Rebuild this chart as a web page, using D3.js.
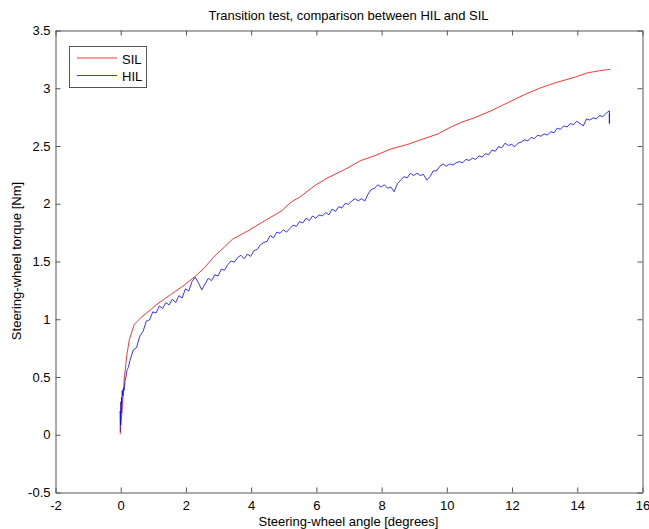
<!DOCTYPE html>
<html>
<head>
<meta charset="utf-8">
<script src="https://cdn.jsdelivr.net/npm/d3@7"></script>
<style>
  html, body { margin: 0; padding: 0; background: #fff; }
  svg { display: block; font-family: "Liberation Sans", Arial, sans-serif; }
</style>
</head>
<body>
<svg id="chart" width="649" height="529"></svg>
<script>
// Simulation (SIL) torque curve
const silAngle = [0, 0.03, 0.07, 0.12, 0.2, 0.28, 0.43, 0.63, 0.94, 1.1, 1.55, 1.91, 2.27, 2.58, 2.88, 3.19,
  3.45, 3.91, 4.32, 4.62, 4.93, 5.24, 5.54, 5.95, 6.36, 6.87, 7.38, 7.79, 8.3, 8.82, 9.22, 9.74,
  10.14, 10.45, 10.86, 11.37, 11.88, 12.39, 12.9, 13.42, 13.93, 14.34, 14.75, 15.03];
const silTorque = [0, 0.12, 0.24, 0.47, 0.68, 0.82, 0.95, 1.01, 1.08, 1.12, 1.21, 1.28, 1.36, 1.44, 1.54, 1.62,
  1.69, 1.76, 1.83, 1.88, 1.93, 2.01, 2.06, 2.15, 2.22, 2.29, 2.37, 2.41, 2.47, 2.51, 2.55, 2.60,
  2.66, 2.70, 2.74, 2.80, 2.87, 2.94, 3.00, 3.05, 3.09, 3.13, 3.15, 3.16];

// Hardware-in-the-loop (HIL) measured torque
const hilAngle = [0, 0, 0.01, 0.02, 0.03, 0.04, 0.05, 0.06, 0.08, 0.1, 0.12, 0.15, 0.18, 0.2, 0.25,
  0.3, 0.4, 0.5, 0.6, 0.7, 0.8, 0.9, 1.0, 1.1, 1.2, 1.3, 1.4, 1.5, 1.6, 1.7, 1.8, 1.9,
  2.0, 2.1, 2.2, 2.3, 2.4, 2.5, 2.6, 2.7, 2.8, 2.9, 3.0, 3.1, 3.2, 3.3, 3.4, 3.5, 3.6, 3.7, 3.8, 3.9,
  4.0, 4.1, 4.2, 4.3, 4.4, 4.5, 4.6, 4.7, 4.8, 4.9, 5.0, 5.1, 5.2, 5.3, 5.4, 5.5, 5.6, 5.7, 5.8, 5.9,
  6.0, 6.1, 6.2, 6.3, 6.4, 6.5, 6.6, 6.7, 6.8, 6.9, 7.0, 7.1, 7.2, 7.3, 7.4, 7.5, 7.6, 7.7, 7.8, 7.9,
  8.0, 8.1, 8.2, 8.3, 8.4, 8.5, 8.6, 8.7, 8.8, 8.9, 9.0, 9.1, 9.2, 9.3, 9.4, 9.5, 9.6, 9.7, 9.8, 9.9,
  10.0, 10.1, 10.2, 10.3, 10.4, 10.5, 10.6, 10.7, 10.8, 10.9, 11.0, 11.1, 11.2, 11.3, 11.4, 11.5, 11.6, 11.7, 11.8, 11.9,
  12.0, 12.1, 12.2, 12.3, 12.4, 12.5, 12.6, 12.7, 12.8, 12.9, 13.0, 13.1, 13.2, 13.3, 13.4, 13.5, 13.6, 13.7, 13.8, 13.9,
  14.0, 14.1, 14.2, 14.3, 14.4, 14.5, 14.6, 14.7, 14.8, 14.9, 15.0, 15.0, 15.0];
const hilTorque = [0.02, 0.2, 0.08, 0.28, 0.18, 0.32, 0.27, 0.38, 0.33, 0.40, 0.38, 0.47, 0.50, 0.55, 0.58,
  0.64, 0.73, 0.75, 0.85, 0.89, 0.98, 0.99, 1.06, 1.05, 1.11, 1.09, 1.14, 1.12, 1.17, 1.14, 1.20, 1.18,
  1.26, 1.24, 1.32, 1.36, 1.31, 1.25, 1.30, 1.35, 1.33, 1.38, 1.37, 1.43, 1.42, 1.47, 1.50, 1.49, 1.53, 1.55, 1.52, 1.56,
  1.54, 1.59, 1.60, 1.64, 1.66, 1.67, 1.72, 1.70, 1.75, 1.74, 1.77, 1.75, 1.78, 1.81, 1.80, 1.84, 1.83, 1.87, 1.85, 1.89,
  1.87, 1.90, 1.89, 1.92, 1.90, 1.95, 1.93, 1.97, 1.96, 2.00, 1.99, 2.02, 2.04, 2.02, 2.04, 2.02, 2.08, 2.12, 2.13, 2.16,
  2.14, 2.16, 2.13, 2.14, 2.10, 2.17, 2.20, 2.23, 2.22, 2.26, 2.24, 2.26, 2.24, 2.25, 2.20, 2.23, 2.28, 2.28, 2.32, 2.34,
  2.32, 2.34, 2.33, 2.35, 2.36, 2.35, 2.38, 2.37, 2.39, 2.38, 2.41, 2.40, 2.43, 2.42, 2.46, 2.45, 2.49, 2.48, 2.52, 2.50,
  2.51, 2.49, 2.52, 2.53, 2.55, 2.54, 2.57, 2.56, 2.59, 2.58, 2.60, 2.59, 2.62, 2.61, 2.65, 2.64, 2.67, 2.66, 2.69, 2.68,
  2.71, 2.69, 2.67, 2.73, 2.72, 2.74, 2.73, 2.76, 2.75, 2.78, 2.80, 2.69, 2.78];

const xTicks = [-2, 0, 2, 4, 6, 8, 10, 12, 14, 16];
const yTicks = [-0.5, 0, 0.5, 1, 1.5, 2, 2.5, 3, 3.5];

const titleText = "Transition test, comparison between HIL and SIL";
const xLabelText = "Steering-wheel angle [degrees]";
const yLabelText = "Steering-wheel torque [Nm]";

const seriesNames = ["SIL", "HIL"];
const seriesColors = ["#ff0000", "#0000ff"];

// Plot frame in pixels
const plotLeft = 55, plotRight = 642, plotTop = 30, plotBottom = 492;
const axisColor = "#555";
const fontSize = 13;

const svg = d3.select("#chart");
const x = d3.scaleLinear().domain([-2, 16]).range([plotLeft, plotRight]);
const y = d3.scaleLinear().domain([-0.5, 3.5]).range([plotBottom, plotTop]);

const fmt = d => String(d);

// Axes (ticks inward, box on all sides)
const g = svg.append("g").attr("transform", "translate(0.5,0.5)");

g.append("g").attr("transform", `translate(0,${plotBottom})`)
  .call(d3.axisBottom(x).tickValues(xTicks).tickSizeInner(-5).tickSizeOuter(0).tickPadding(8).tickFormat(fmt));
g.append("g").attr("transform", `translate(0,${plotTop})`)
  .call(d3.axisTop(x).tickValues(xTicks).tickSizeInner(-5).tickSizeOuter(0).tickFormat(""));
g.append("g").attr("transform", `translate(${plotLeft},0)`)
  .call(d3.axisLeft(y).tickValues(yTicks).tickSizeInner(-5).tickSizeOuter(0).tickPadding(5).tickFormat(fmt));
g.append("g").attr("transform", `translate(${plotRight},0)`)
  .call(d3.axisRight(y).tickValues(yTicks).tickSizeInner(-5).tickSizeOuter(0).tickFormat(""));

g.selectAll(".domain").attr("stroke", axisColor);
g.selectAll(".tick line").attr("stroke", axisColor);
g.selectAll(".tick text").attr("fill", "#000").attr("font-size", fontSize)
  .attr("font-family", "'Liberation Sans', Arial, sans-serif");

// Data lines
const line = d3.line().x(d => x(d[0])).y(d => y(d[1]));
const silData = d3.zip(silAngle, silTorque);
const hilData = d3.zip(hilAngle, hilTorque);

const plot = svg.append("g");
plot.append("path").datum(silData).attr("d", line)
  .attr("fill", "none").attr("stroke", seriesColors[0]).attr("stroke-width", 0.8).attr("stroke-linejoin", "round");
plot.append("path").datum(hilData).attr("d", line)
  .attr("fill", "none").attr("stroke", seriesColors[1]).attr("stroke-width", 0.8).attr("stroke-linejoin", "round");

// Title and axis labels
svg.append("text").attr("x", (plotLeft + plotRight) / 2).attr("y", 20)
  .attr("text-anchor", "middle").attr("font-size", fontSize).text(titleText);
svg.append("text").attr("x", (plotLeft + plotRight) / 2).attr("y", 526)
  .attr("text-anchor", "middle").attr("font-size", fontSize).text(xLabelText);
svg.append("text").attr("transform", `translate(21,${(plotTop + plotBottom) / 2}) rotate(-90)`)
  .attr("text-anchor", "middle").attr("font-size", fontSize).text(yLabelText);

// Legend
const lg = svg.append("g");
lg.append("rect").attr("x", 69.5).attr("y", 46.5).attr("width", 77).attr("height", 41)
  .attr("fill", "#fff").attr("stroke", axisColor).attr("stroke-width", 1);
seriesNames.forEach((name, i) => {
  const ly = 58 + i * 17.5;
  lg.append("line").attr("x1", 77).attr("x2", 117).attr("y1", ly).attr("y2", ly)
    .attr("stroke", seriesColors[i]).attr("stroke-width", 0.8);
  lg.append("text").attr("x", 122).attr("y", ly + 5.5).attr("font-size", fontSize).text(name);
});
</script>
</body>
</html>
